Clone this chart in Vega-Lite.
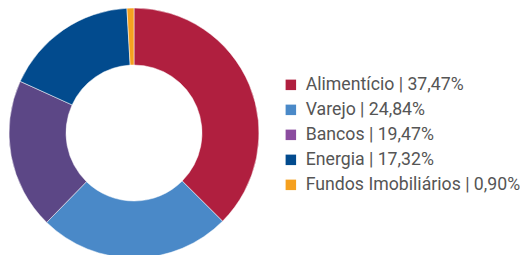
{
  "$schema": "https://vega.github.io/schema/vega-lite/v6.json",
  "width": 268,
  "height": 266,
  "padding": 0,
  "autosize": {"type": "pad"},
  "background": "white",
  "data": {"values": [
    {"setor": "Alimentício | 37,47%", "valor": 37.47, "ordem": 1},
    {"setor": "Varejo | 24,84%", "valor": 24.84, "ordem": 2},
    {"setor": "Bancos | 19,47%", "valor": 19.47, "ordem": 3},
    {"setor": "Energia | 17,32%", "valor": 17.32, "ordem": 4},
    {"setor": "Fundos Imobiliários | 0,90%", "valor": 0.90, "ordem": 5}
  ]},
  "layer": [
    {
      "mark": {"type": "arc", "outerRadius": 125, "innerRadius": 68, "stroke": "white", "strokeWidth": 0.5},
      "encoding": {
        "theta": {"field": "valor", "type": "quantitative", "stack": true},
        "order": {"field": "ordem", "type": "quantitative"},
        "fill": {
          "field": "setor",
          "type": "nominal",
          "sort": {"field": "ordem"},
          "scale": {
            "domain": ["Alimentício | 37,47%", "Varejo | 24,84%", "Bancos | 19,47%", "Energia | 17,32%", "Fundos Imobiliários | 0,90%"],
            "range": ["#B01F3F", "#4A89C8", "#5C4786", "#024B8E", "#F5A01F"]
          },
          "legend": null
        }
      }
    },
    {
      "mark": {"type": "arc", "outerRadius": 0, "innerRadius": 0},
      "encoding": {
        "theta": {"field": "valor", "type": "quantitative", "stack": true},
        "order": {"field": "ordem", "type": "quantitative"},
        "color": {
          "field": "setor",
          "type": "nominal",
          "sort": {"field": "ordem"},
          "scale": {
            "domain": ["Alimentício | 37,47%", "Varejo | 24,84%", "Bancos | 19,47%", "Energia | 17,32%", "Fundos Imobiliários | 0,90%"],
            "range": ["#B01F3F", "#4A89C8", "#8B4C9F", "#024B8E", "#F5A01F"]
          },
          "legend": {
            "title": null,
            "orient": "none",
            "legendX": 282,
            "legendY": 76,
            "symbolType": "square",
            "symbolSize": 110,
            "symbolStrokeWidth": 0,
            "symbolOpacity": 1,
            "labelFont": "Roboto",
            "labelFontSize": 17.7,
            "labelColor": "#555555",
            "labelOffset": 6,
            "rowPadding": 6,
            "labelLimit": 300
          }
        }
      }
    }
  ],
  "resolve": {"scale": {"color": "independent", "fill": "independent"}}
}
